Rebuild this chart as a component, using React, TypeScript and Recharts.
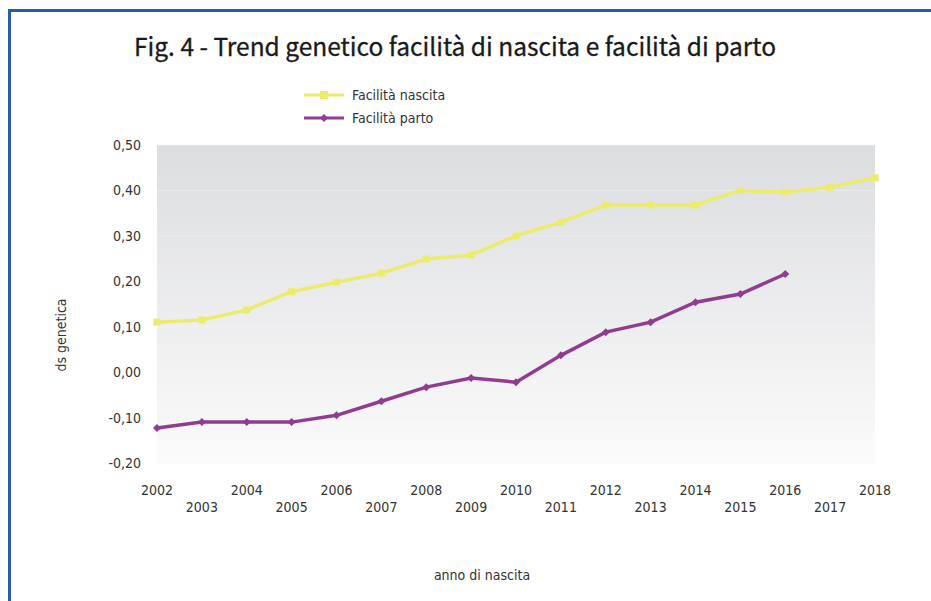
import React from 'react';
import {
  LineChart,
  Line,
  XAxis,
  YAxis,
  CartesianGrid,
  Legend,
  Label,
} from 'recharts';

const years = [
  '2002', '2003', '2004', '2005', '2006', '2007', '2008', '2009', '2010',
  '2011', '2012', '2013', '2014', '2015', '2016', '2017', '2018',
];

// Facilità nascita
const nascita = [
  0.11, 0.115, 0.137, 0.177, 0.198, 0.218, 0.249, 0.258, 0.30,
  0.33, 0.368, 0.368, 0.368, 0.40, 0.396, 0.407, 0.428,
];

// Facilità parto (no data for 2017, 2018)
const parto = [
  -0.123, -0.11, -0.11, -0.11, -0.095, -0.064, -0.033, -0.013, -0.022,
  0.037, 0.088, 0.11, 0.154, 0.172, 0.216, null, null,
];

const yTicks = [-0.2, -0.1, 0, 0.1, 0.2, 0.3, 0.4, 0.5];

const YELLOW = '#ecec6c';
const PURPLE = '#913c90';
const TEXT = '#333333';
const NARROW = "'Liberation Sans Narrow', 'DejaVu Sans Condensed', sans-serif";

const data = years.map((y, i) => ({ year: y, nascita: nascita[i], parto: parto[i] }));

function YearTick({ x, y, index, payload }: any) {
  return (
    <text
      x={x}
      y={y + (index % 2 ? 43 : 26)}
      textAnchor="middle"
      fontSize={14}
      fontFamily={NARROW}
      fill={TEXT}
    >
      {payload.value}
    </text>
  );
}

function SquareDot({ cx, cy }: any) {
  if (cx == null || cy == null) return null;
  return <rect x={cx - 3.5} y={cy - 3.5} width={7} height={7} fill={YELLOW} />;
}

function DiamondDot({ cx, cy }: any) {
  if (cx == null || cy == null) return null;
  return (
    <path
      d={`M${cx},${cy - 4}L${cx + 4},${cy}L${cx},${cy + 4}L${cx - 4},${cy}Z`}
      fill={PURPLE}
    />
  );
}

function MyLegend() {
  const items = [
    { label: 'Facilità nascita', color: YELLOW, square: true },
    { label: 'Facilità parto', color: PURPLE, square: false },
  ];
  return (
    <div>
      {items.map((it) => (
        <div
          key={it.label}
          style={{ display: 'flex', alignItems: 'center', height: 23 }}
        >
          <svg width={44} height={10}>
            <line x1={2} y1={5} x2={42} y2={5} stroke={it.color} strokeWidth={3} />
            {it.square ? (
              <rect x={18} y={1} width={8} height={8} fill={it.color} />
            ) : (
              <path d="M22,1L26,5L22,9L18,5Z" fill={it.color} />
            )}
          </svg>
          <span
            style={{
              marginLeft: 6,
              fontSize: 14,
              fontFamily: "'DejaVu Sans Condensed', sans-serif",
              color: TEXT,
            }}
          >
            {it.label}
          </span>
        </div>
      ))}
    </div>
  );
}

export default function App() {
  return (
    <div
      style={{
        position: 'absolute',
        left: 0,
        top: 0,
        width: 931,
        height: 601,
        background: '#ffffff',
        overflow: 'hidden',
      }}
    >
      <div style={{ position: 'absolute', left: 8, top: 9, width: 923, height: 3, background: '#2b5ca8' }} />
      <div style={{ position: 'absolute', left: 8, top: 9, width: 3, height: 592, background: '#2b5ca8' }} />
      <LineChart
        width={931}
        height={601}
        data={data}
        margin={{ top: 145, right: 56, bottom: 78, left: 0 }}
      >
        <defs>
          <linearGradient id="plotBg" x1="0" y1="0" x2="0" y2="1">
            <stop offset="0%" stopColor="#dcdde0" />
            <stop offset="100%" stopColor="#fbfbfb" />
          </linearGradient>
        </defs>
        <text
          x={455}
          y={56}
          textAnchor="middle"
          fontSize={24.5}
          fontFamily="'Noto Sans CJK KR', 'Noto Sans', sans-serif"
          fill="#1a1a1a"
          stroke="#1a1a1a"
          strokeWidth={0.3}
        >
          Fig. 4 - Trend genetico facilità di nascita e facilità di parto
        </text>
        <CartesianGrid
          vertical={false}
          stroke="#f2f2f2"
          strokeOpacity={0.6}
          fill="url(#plotBg)"
          fillOpacity={1}
        />
        <XAxis
          dataKey="year"
          axisLine={false}
          tickLine={false}
          tickMargin={0}
          interval={0}
          height={60}
          tick={<YearTick />}
        >
          <Label
            content={() => (
              <text
                x={482}
                y={580}
                textAnchor="middle"
                fontSize={14}
                fontFamily={NARROW}
                fill={TEXT}
              >
                anno di nascita
              </text>
            )}
          />
        </XAxis>
        <YAxis
          width={157}
          domain={[-0.2, 0.5]}
          ticks={yTicks}
          axisLine={false}
          tickLine={false}
          tickSize={6}
          tickMargin={10}
          tick={{ fontSize: 14, fontFamily: NARROW, fill: TEXT }}
          tickFormatter={(v: number) => v.toFixed(2).replace('.', ',')}
        >
          <Label
            content={() => (
              <text
                x={66}
                y={335}
                transform="rotate(-90 66 335)"
                textAnchor="middle"
                fontSize={14}
                fontFamily={NARROW}
                fill={TEXT}
              >
                ds genetica
              </text>
            )}
          />
        </YAxis>
        <Legend
          layout="vertical"
          verticalAlign="middle"
          align="center"
          wrapperStyle={{ position: 'absolute', top: 83, left: 302, width: 220 }}
          content={<MyLegend />}
        />
        <Line
          type="linear"
          dataKey="nascita"
          name="Facilità nascita"
          stroke={YELLOW}
          strokeWidth={3.5}
          dot={<SquareDot />}
          activeDot={false}
          isAnimationActive={false}
        />
        <Line
          type="linear"
          dataKey="parto"
          name="Facilità parto"
          stroke={PURPLE}
          strokeWidth={3.5}
          dot={<DiamondDot />}
          activeDot={false}
          isAnimationActive={false}
        />
      </LineChart>
    </div>
  );
}
